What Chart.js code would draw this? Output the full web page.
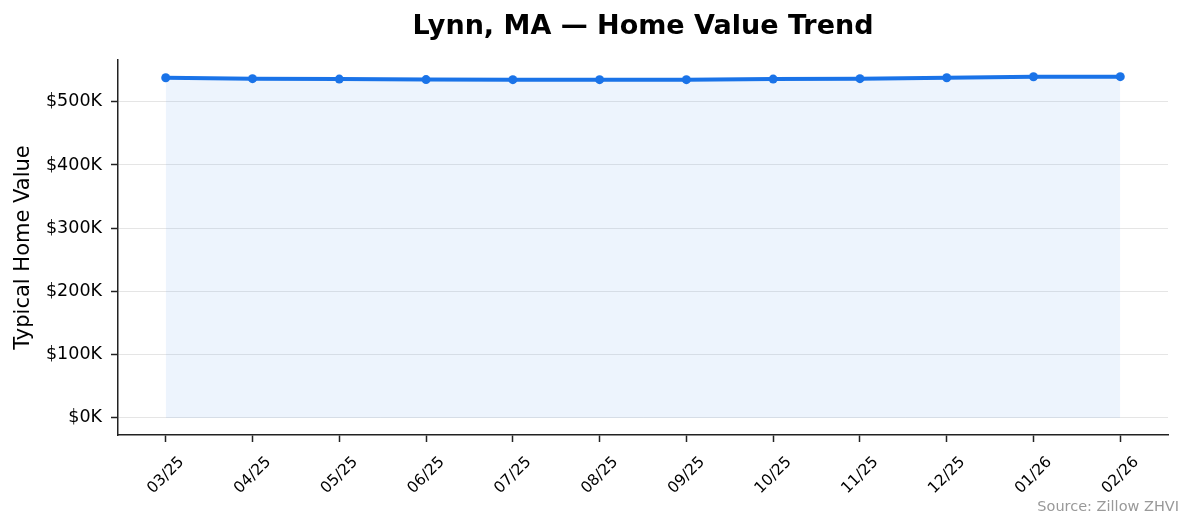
<!DOCTYPE html>
<html>
<head>
<meta charset="utf-8">
<script src="https://cdn.jsdelivr.net/npm/chart.js@4"></script>
<style>
  html, body { margin: 0; padding: 0; background: #fff; }
  #wrap { width: 1194px; height: 529px; position: relative; }
</style>
</head>
<body>
<div id="wrap"><canvas id="homeValueChart"></canvas></div>
<script>
const months = ['03/25', '04/25', '05/25', '06/25', '07/25', '08/25', '09/25', '10/25', '11/25', '12/25', '01/26', '02/26'];
const homeValues = [538000, 536500, 535800, 535000, 534900, 534900, 534900, 535800, 536500, 538000, 539500, 539700];
const yTicks = [0, 100000, 200000, 300000, 400000, 500000];

const chartTitle = 'Lynn, MA \u2014 Home Value Trend';
const sourceNote = 'Source: Zillow ZHVI';

// title + source note drawn on the canvas
const annotations = {
    id: 'annotations',
    afterDraw(chart) {
        const c = chart.ctx;
        c.save();
        c.fillStyle = '#000';
        c.font = 'bold 27px "DejaVu Sans"';
        c.textAlign = 'center';
        c.textBaseline = 'middle';
        c.fillText(chartTitle, 643, 27);
        c.fillStyle = '#999';
        c.font = '14.5px "DejaVu Sans"';
        c.textAlign = 'right';
        c.textBaseline = 'alphabetic';
        c.fillText(sourceNote, 1179, 511);
        c.restore();
    }
};

document.addEventListener('DOMContentLoaded', () => {
    const ctx = document.getElementById('homeValueChart').getContext('2d');
    new Chart(ctx, {
        type: 'line',
        data: {
            datasets: [{
                data: homeValues.map((v, i) => ({ x: i, y: v })),
                borderColor: '#1a73e8',
                borderWidth: 4,
                backgroundColor: 'rgba(26, 115, 232, 0.08)',
                fill: 'origin',
                pointRadius: 4.5,
                pointBackgroundColor: '#1a73e8',
                pointBorderWidth: 0,
                tension: 0
            }]
        },
        options: {
            responsive: true,
            maintainAspectRatio: false,
            animation: false,
            layout: { padding: { top: 60, right: 26, left: 0, bottom: 0 } },
            plugins: {
                legend: { display: false },
                tooltip: { enabled: false }
            },
            scales: {
                x: {
                    type: 'linear',
                    min: -0.55,
                    max: 11.55,
                    afterBuildTicks: s => { s.ticks = months.map((m, i) => ({ value: i })); },
                    afterFit: s => { s.height = 94; },
                    ticks: {
                        callback: v => months[v],
                        maxRotation: 45,
                        minRotation: 45,
                        color: '#000',
                        font: { family: 'DejaVu Sans', size: 15.5 },
                        padding: 11,
                        labelOffset: 16
                    },
                    grid: { drawOnChartArea: false, tickColor: '#222', tickLength: 7, tickWidth: 1.5 },
                    border: { color: '#222', width: 1.5 }
                },
                y: {
                    min: -27000,
                    max: 566000,
                    afterBuildTicks: s => { s.ticks = yTicks.map(v => ({ value: v })); },
                    afterFit: s => { s.width = 118; },
                    ticks: {
                        callback: v => '$' + Math.round(v / 1000) + 'K',
                        color: '#000',
                        font: { family: 'DejaVu Sans', size: 17.5 },
                        padding: 9
                    },
                    grid: { color: 'rgba(0, 0, 0, 0.1)', tickColor: '#222', tickLength: 7, tickWidth: 1.5 },
                    border: { color: '#222', width: 1.5 },
                    title: {
                        display: true,
                        text: 'Typical Home Value',
                        color: '#000',
                        font: { family: 'DejaVu Sans', size: 21 },
                        padding: { top: 11, bottom: 6 }
                    }
                }
            }
        },
        plugins: [annotations]
    });
});
</script>
</body>
</html>
